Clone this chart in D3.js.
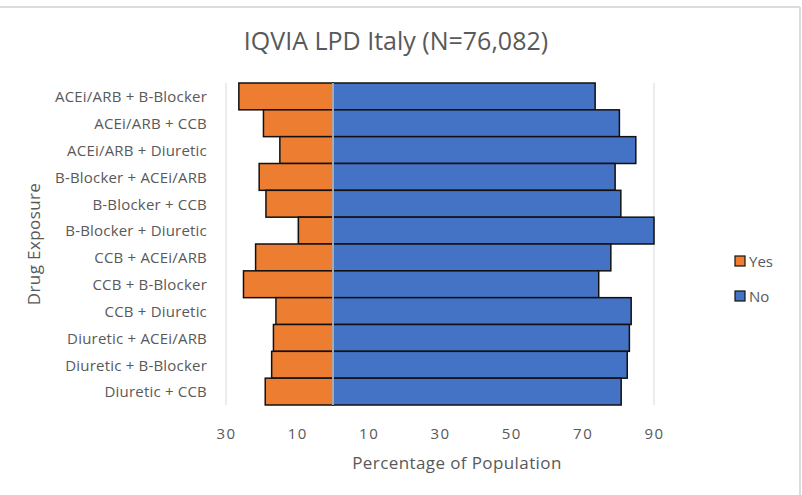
<!DOCTYPE html>
<html>
<head>
<meta charset="utf-8">
<script src="https://cdn.jsdelivr.net/npm/d3@7"></script>
<style>
  body { margin: 0; background: #fff; }
  text { font-family: "Open Sans", "Liberation Sans", sans-serif; fill: #595959; }
</style>
</head>
<body>
<div id="chart"></div>
<script>
  const categories = [
    'ACEi/ARB + B-Blocker', 'ACEi/ARB + CCB', 'ACEi/ARB + Diuretic',
    'B-Blocker + ACEi/ARB', 'B-Blocker + CCB', 'B-Blocker + Diuretic',
    'CCB + ACEi/ARB', 'CCB + B-Blocker', 'CCB + Diuretic',
    'Diuretic + ACEi/ARB', 'Diuretic + B-Blocker', 'Diuretic + CCB'
  ];
  const yesValues = [26.4, 19.5, 14.9, 20.7, 18.8, 9.7, 21.7, 25.1, 16.0, 16.7, 17.2, 19.0];
  const noValues = [73.5, 80.3, 84.9, 79.1, 80.7, 90.0, 77.9, 74.5, 83.6, 83.1, 82.5, 80.8];
  const xTicks = [-30, -10, 10, 30, 50, 70, 90];
  const seriesNames = ['Yes', 'No'];
  const colors = ['#ED7D31', '#4472C4'];

  const width = 802;
  const height = 495;
  const margin = { top: 83, bottom: 90, left: 226, right: 148 };

  const svg = d3.select('#chart')
    .append('svg')
    .attr('width', width)
    .attr('height', height);

  // frame edges visible in the screenshot
  svg.append('line').attr('x1', 0).attr('x2', 800).attr('y1', 7).attr('y2', 7)
    .attr('stroke', '#dcdcdc').attr('stroke-width', 2);
  svg.append('line').attr('x1', 800).attr('x2', 800).attr('y1', 7).attr('y2', height)
    .attr('stroke', '#dcdcdc').attr('stroke-width', 2);

  const x = d3.scaleLinear()
    .domain([-30, 90])
    .range([margin.left, width - margin.right]);
  const y = d3.scaleBand()
    .domain(categories)
    .range([margin.top, height - margin.bottom])
    .padding(0);

  // gridlines
  svg.append('g')
    .selectAll('line')
    .data(xTicks)
    .join('line')
      .attr('x1', d => x(d)).attr('x2', d => x(d))
      .attr('y1', margin.top).attr('y2', height - margin.bottom)
      .attr('stroke', '#d9d9d9')
      .attr('stroke-width', 1);

  // Yes bars (left of zero)
  svg.append('g')
    .selectAll('rect')
    .data(categories)
    .join('rect')
      .attr('x', (d, i) => x(-yesValues[i]))
      .attr('y', d => y(d))
      .attr('width', (d, i) => x(0) - x(-yesValues[i]))
      .attr('height', y.bandwidth())
      .attr('fill', colors[0])
      .attr('stroke', '#111')
      .attr('stroke-width', 1.5);

  // No bars (right of zero)
  svg.append('g')
    .selectAll('rect')
    .data(categories)
    .join('rect')
      .attr('x', x(0))
      .attr('y', d => y(d))
      .attr('width', (d, i) => x(noValues[i]) - x(0))
      .attr('height', y.bandwidth())
      .attr('fill', colors[1])
      .attr('stroke', '#111')
      .attr('stroke-width', 1.5);

  // zero line
  svg.append('line')
    .attr('x1', x(0)).attr('x2', x(0))
    .attr('y1', margin.top).attr('y2', height - margin.bottom)
    .attr('stroke', '#d9d9d9')
    .attr('stroke-width', 1.5);

  // x axis
  const xAxis = g => g
    .attr('transform', `translate(0,${height - margin.bottom + 20})`)
    .call(d3.axisBottom(x).tickValues(xTicks).tickFormat(d => Math.abs(d)).tickSize(0))
    .call(g => g.select('.domain').remove())
    .call(g => g.selectAll('text').attr('font-size', 15).attr('letter-spacing', 1.5).attr('fill', '#595959'));
  svg.append('g').call(xAxis);

  // y axis labels
  const yAxis = g => g
    .attr('transform', `translate(${margin.left - 16},1)`)
    .call(d3.axisLeft(y).tickSize(0))
    .call(g => g.select('.domain').remove())
    .call(g => g.selectAll('text').attr('font-size', 15).attr('letter-spacing', 0.2).attr('fill', '#595959'));
  svg.append('g').call(yAxis);

  // title
  svg.append('text')
    .attr('x', 396).attr('y', 50)
    .attr('text-anchor', 'middle')
    .attr('font-size', 25)
    .text('IQVIA LPD Italy (N=76,082)');

  // axis titles
  svg.append('text')
    .attr('x', x(30) + 17).attr('y', 469)
    .attr('text-anchor', 'middle')
    .attr('font-size', 17)
    .attr('letter-spacing', 0.4)
    .text('Percentage of Population');
  svg.append('text')
    .attr('transform', `translate(40,${(margin.top + height - margin.bottom) / 2}) rotate(-90)`)
    .attr('text-anchor', 'middle')
    .attr('font-size', 17)
    .attr('letter-spacing', 0.4)
    .text('Drug Exposure');

  // legend
  const legend = svg.append('g')
    .selectAll('g')
    .data(seriesNames)
    .join('g')
      .attr('transform', (d, i) => `translate(735,${256 + i * 35})`);
  legend.append('rect')
    .attr('width', 10).attr('height', 10)
    .attr('fill', (d, i) => colors[i])
    .attr('stroke', '#111')
    .attr('stroke-width', 1.2);
  legend.append('text')
    .attr('x', 14).attr('y', 10.5)
    .attr('font-size', 15)
    .text(d => d);
</script>
</body>
</html>
